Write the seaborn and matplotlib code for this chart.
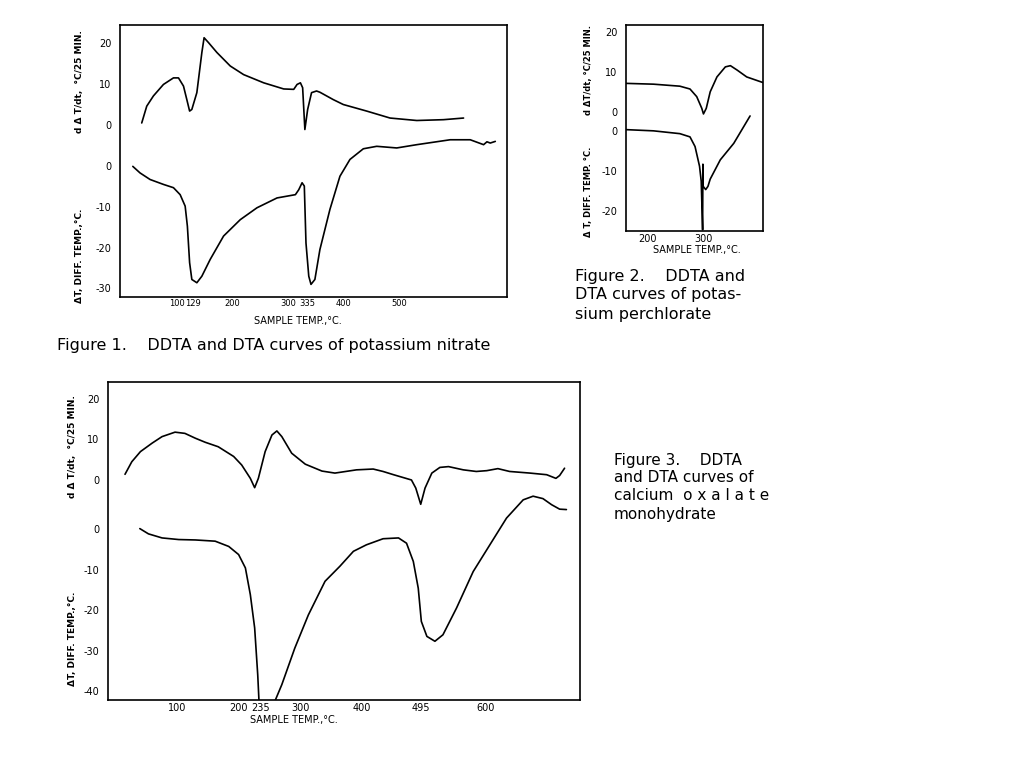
import matplotlib
matplotlib.use("Agg")
import matplotlib.pyplot as plt
import numpy as np
import pandas as pd
import seaborn as sns

# ---- Figure 1: potassium nitrate ----
f1_ddta_t = [37, 46, 58, 76, 94, 103, 112, 118, 123, 127, 136, 145, 149, 157, 172,
             196, 220, 256, 292, 310, 316, 322, 326, 330, 335, 342, 351, 357, 381,
             399, 441, 483, 531, 579, 615]
f1_ddta_v = [0.4, 4.5, 7.0, 9.8, 11.4, 11.4, 9.4, 6.1, 3.3, 3.7, 7.8, 17.6, 21.2, 20.0,
             17.6, 14.3, 12.2, 10.2, 8.7, 8.6, 9.8, 10.2, 9.0, -1.2, 3.7, 7.8, 8.2, 7.9,
             6.1, 4.9, 3.3, 1.6, 1.0, 1.2, 1.6]
f1_dta_t = [21, 34, 52, 76, 94, 106, 115, 119, 123, 127, 136, 145, 160, 184, 214, 244,
            280, 313, 319, 325, 329, 332, 337, 341, 348, 357, 375, 393, 411, 435, 459,
            495, 531, 591, 627, 651, 657, 663, 672]
f1_dta_v = [-0.2, -1.8, -3.4, -4.6, -5.4, -7.1, -9.9, -14.8, -23.7, -27.8, -28.6, -27.0,
            -22.9, -17.2, -13.2, -10.3, -7.9, -7.1, -5.9, -4.2, -5.0, -18.9, -27.0, -29.0,
            -27.8, -20.5, -10.7, -2.6, 1.5, 4.1, 4.7, 4.3, 5.1, 6.3, 6.3, 5.1, 5.8, 5.5, 5.9]
f1_xticks = [100, 129, 200, 300, 335, 400, 500]

# ---- Figure 2: potassium perchlorate ----
f2_ddta_t = [162, 211, 258, 276, 288, 297, 300, 305, 312, 324, 339, 348, 360, 377, 406]
f2_ddta_v = [7.2, 7.0, 6.5, 5.8, 3.9, 1.0, -0.4, 1.0, 5.1, 8.8, 11.3, 11.6, 10.5, 8.8, 7.4]
f2_dta_t = [162, 211, 258, 276, 285, 293, 296, 298.5, 299, 299.5, 304, 308, 312, 330,
            354, 383]
f2_dta_v = [0.3, 0.0, -0.7, -1.5, -3.9, -8.8, -12.5, -24.6, -8.3, -13.8, -14.6, -13.8,
            -12.0, -7.2, -3.1, 3.7]
f2_xticks = [200, 300]

# ---- Figure 3: calcium oxalate monohydrate ----
f3_ddta_t = [16, 27, 41, 60, 76, 97, 113, 130, 146, 167, 192, 205, 219, 226, 232, 243,
             254, 262, 270, 286, 308, 335, 356, 391, 418, 434, 451, 480, 487, 495, 502,
             513, 526, 540, 564, 585, 602, 620, 639, 672, 699, 714, 720, 728]
f3_ddta_v = [1.3, 4.4, 6.9, 9.0, 10.6, 11.7, 11.4, 10.2, 9.2, 8.1, 5.7, 3.6, 0.3, -2.0,
             0.3, 6.9, 11.0, 12.0, 10.6, 6.5, 3.8, 2.1, 1.6, 2.4, 2.6, 2.0, 1.2, -0.1,
             -2.1, -6.1, -2.1, 1.6, 3.0, 3.2, 2.4, 2.0, 2.2, 2.7, 2.0, 1.6, 1.2, 0.3,
             1.0, 2.8]
f3_dta_t = [40, 54, 76, 103, 130, 162, 184, 200, 211, 219, 226, 231, 233, 246, 259, 270,
            291, 313, 340, 364, 386, 407, 434, 459, 472, 483, 491, 496, 505, 518, 531,
            553, 580, 607, 634, 661, 677, 693, 707, 720, 731]
f3_dta_v = [0.1, -1.2, -2.2, -2.6, -2.7, -3.0, -4.3, -6.3, -9.6, -16.2, -24.4, -36.0,
            -42.4, -48.0, -42.4, -38.4, -29.4, -21.2, -12.9, -9.2, -5.5, -3.9, -2.4, -2.2,
            -3.5, -8.0, -14.6, -22.8, -26.5, -27.7, -26.1, -19.5, -10.5, -3.9, 2.7, 7.2,
            8.1, 7.5, 6.0, 4.9, 4.8]
f3_xticks = [100, 200, 235, 300, 400, 495, 600]

ddta_label = "d \u0394 T/dt,  \u00b0C/25 MIN."
dta_label = "\u0394T, DIFF. TEMP.,\u00b0C."
x_label = "SAMPLE TEMP.,\u00b0C."

sns.set_style("white")
plt.rcParams['font.family'] = ['DejaVu Sans']
plt.rcParams['text.color'] = 'black'
plt.rcParams['xtick.color'] = 'black'
plt.rcParams['ytick.color'] = 'black'

fig = plt.figure(figsize=(10.24, 7.68), dpi=100)


def draw_panel(rect, ddta_t, ddta_v, dta_t, dta_v, offset, ylim, xlim, xticks,
               up_ticks, low_ticks, xfs=7):
    ax = fig.add_axes(rect)
    up = pd.DataFrame({'T': ddta_t, 'v': ddta_v})
    low = pd.DataFrame({'T': dta_t, 'v': np.array(dta_v) + offset})
    sns.lineplot(data=up, x='T', y='v', sort=False, estimator=None,
                 color='black', lw=1.2, ax=ax)
    sns.lineplot(data=low, x='T', y='v', sort=False, estimator=None,
                 color='black', lw=1.2, ax=ax)
    ax.set_xlim(*xlim)
    ax.set_ylim(*ylim)
    ax.set_xlabel('')
    ax.set_ylabel('')
    ax.set_xticks(xticks)
    ax.set_xticklabels([str(t) for t in xticks], fontsize=xfs)
    pos = list(up_ticks) + [t + offset for t in low_ticks]
    labs = [str(t) for t in up_ticks] + [str(t) for t in low_ticks]
    ax.set_yticks(pos)
    ax.set_yticklabels(labs, fontsize=7)
    ax.tick_params(axis='x', direction='in', length=5, width=1, pad=2)
    ax.tick_params(axis='y', direction='out', length=5, width=1, pad=1)
    for s in ax.spines.values():
        s.set_color('black')
        s.set_linewidth(1.2)
    return ax


# figure 1
draw_panel([0.1172, 0.6137, 0.3779, 0.3537], f1_ddta_t, f1_ddta_v, f1_dta_t, f1_dta_v,
           -10, (-42.0, 24.3), (-2, 693), f1_xticks, [20, 10, 0], [0, -10, -20, -30],
           xfs=6)
fig.text(0.078, 1 - 82 / 768, ddta_label, rotation=90, fontsize=6.5,
         ha='center', va='center', weight='bold')
fig.text(0.078, 1 - 256 / 768, dta_label, rotation=90, fontsize=6.5,
         ha='center', va='center', weight='bold')
fig.text(298 / 1024, 1 - 321 / 768, x_label, fontsize=7, ha='center', va='center')
fig.text(57 / 1024, 1 - 346 / 768,
         "Figure 1.    DDTA and DTA curves of potassium nitrate",
         fontsize=11.5, ha='left', va='center')

# figure 2
draw_panel([0.6113, 0.6992, 0.1338, 0.2682], f2_ddta_t, f2_ddta_v, f2_dta_t, f2_dta_v,
           -4.6, (-29.5, 21.7), (162, 406), f2_xticks, [20, 10, 0], [0, -10, -20])
fig.text(588 / 1024, 1 - 70 / 768, "d \u0394T/dt, \u00b0C/25 MIN.", rotation=90,
         fontsize=6, ha='center', va='center', weight='bold')
fig.text(588 / 1024, 1 - 192 / 768, "\u0394 T, DIFF. TEMP. \u00b0C.", rotation=90,
         fontsize=6, ha='center', va='center', weight='bold')
fig.text(697 / 1024, 1 - 250 / 768, x_label, fontsize=7, ha='center', va='center')
cap2 = ["Figure 2.    DDTA and", "DTA curves of potas-", "sium perchlorate"]
for i, line in enumerate(cap2):
    fig.text(575 / 1024, 1 - (276 + 19 * i) / 768, line, fontsize=11.5,
             ha='left', va='center')

# figure 3
draw_panel([0.1052, 0.0885, 0.4612, 0.4137], f3_ddta_t, f3_ddta_v, f3_dta_t, f3_dta_v,
           -12.2, (-54.4, 24.0), (-12, 753), f3_xticks, [20, 10, 0],
           [0, -10, -20, -30, -40])
fig.text(73 / 1024, 1 - 447 / 768, ddta_label, rotation=90, fontsize=6.5,
         ha='center', va='center', weight='bold')
fig.text(73 / 1024, 1 - 639 / 768, dta_label, rotation=90, fontsize=6.5,
         ha='center', va='center', weight='bold')
fig.text(294 / 1024, 1 - 720 / 768, x_label, fontsize=7, ha='center', va='center')
cap3 = ["Figure 3.    DDTA", "and DTA curves of", "calcium  o x a l a t e", "monohydrate"]
for i, line in enumerate(cap3):
    fig.text(614 / 1024, 1 - (460 + 18 * i) / 768, line, fontsize=11,
             ha='left', va='center')

fig.savefig('out.png', dpi=100)
